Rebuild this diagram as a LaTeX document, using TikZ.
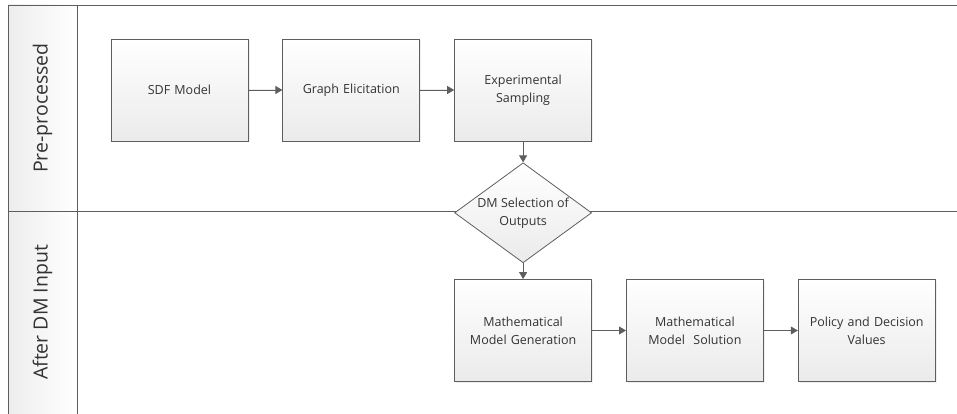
\documentclass[tikz,border=0pt]{standalone}
\usepackage{fontspec}
\setmainfont{Open Sans}
\usepackage{tikz}
\usetikzlibrary{positioning,shapes.geometric,arrows.meta,shadows}
\definecolor{linegray}{HTML}{5E5E5E}
\definecolor{textgray}{HTML}{333333}
\tikzset{
	->, % every connector gets a head
	>={Triangle[length=7pt,width=8pt]}, % filled triangular heads
	node distance=34pt, % space between two steps in a lane
}

\begin{document}
\begin{tikzpicture}[
	x=1pt, y=-1pt,
	stepbox/.style={rectangle, draw=linegray, thick, top color=white, bottom color=gray!16, minimum width=137pt, minimum height=102pt, align=center, text width=135pt, inner sep=1pt, font=\fontsize{12.5}{18}\selectfont, text=textgray, drop shadow={shadow xshift=1.5pt, shadow yshift=-1.5pt, fill=gray!25}},
	choicebox/.style={diamond, aspect=1.37, draw=linegray, thick, top color=white, bottom color=gray!16, minimum width=137pt, minimum height=100pt, inner sep=-3pt, align=center, font=\fontsize{12.5}{18}\selectfont, text=textgray},
	lanelabel/.style={rotate=90, font=\fontsize{19.5}{22}\selectfont, text=textgray},
	edgeline/.style={draw=linegray, thick},
	]
	\useasboundingbox (0,0) rectangle (957,414);
	%Lanes
	\fill[left color=gray!14, right color=white] (8,5) rectangle (77,414);
	\draw[-, edgeline] (957,5) -- (8,5) -- (8,414);
	\draw[-, edgeline] (77,5) -- (77,414);
	\draw[-, edgeline] (8,211) -- (957,211);
	\node[lanelabel] (pre) at (42.5,108) {Pre-processed};
	\node[lanelabel] (after) at (42.5,312.5) {After DM Input};

	%Nodes
	\node[stepbox] (sdf) at (179.5,90) {SDF Model};
	\node[stepbox] (graph) [right=of sdf] {Graph Elicitation};
	\node[stepbox] (sampling) [right=of graph] {Experimental\\Sampling};
	\node[choicebox] (select) [below=21pt of sampling] {DM Selection of\\Outputs};
	\node[stepbox] (generate) at (select |- 0,330.5) {Mathematical\\Model Generation};
	\node[stepbox] (solve) [right=of generate] {Mathematical\\Model\ \ Solution};
	\node[stepbox] (policy) [right=of solve] {Policy and Decision\\Values};

	%Lines
	\draw[edgeline, fill=linegray] (sdf) -- (graph);
	\draw[edgeline, fill=linegray] (graph) -- (sampling);
	\draw[edgeline, fill=linegray] (sampling) -- (select);
	\draw[edgeline, fill=linegray] (select) -- (generate);
	\draw[edgeline, fill=linegray] (generate) -- (solve);
	\draw[edgeline, fill=linegray] (solve) -- (policy);
\end{tikzpicture}
\end{document}
